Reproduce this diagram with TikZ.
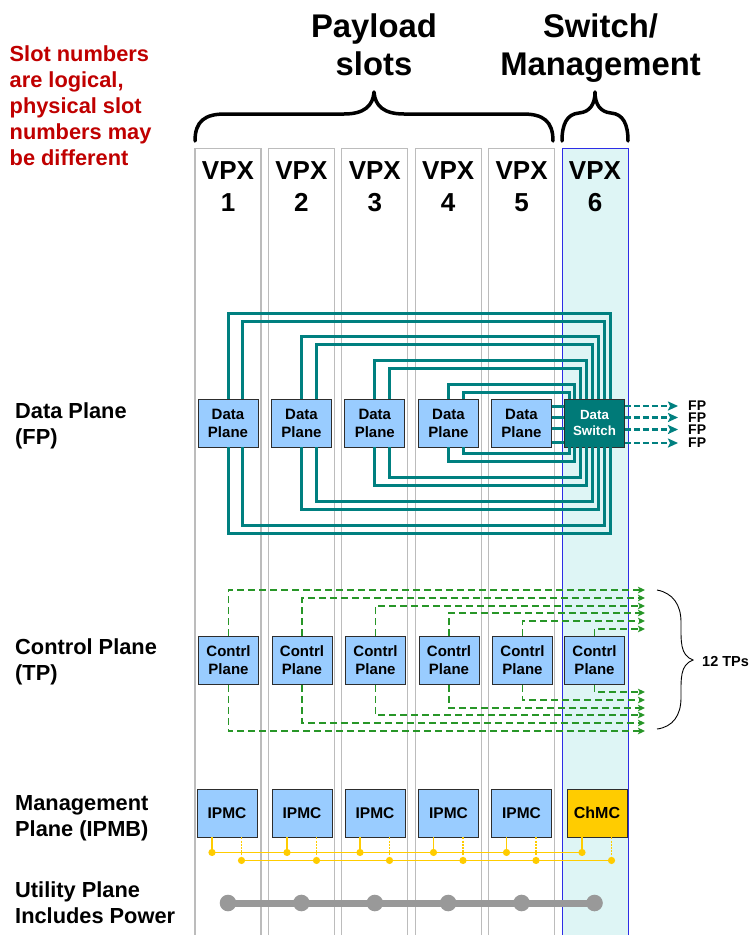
\documentclass[tikz,border=0pt]{standalone}
\usepackage{fontspec}
\setmainfont{Liberation Sans}
\usetikzlibrary{arrows.meta}
\definecolor{slotgray}{RGB}{188,188,188}
\definecolor{sixfill}{RGB}{222,245,245}
\definecolor{sixblue}{RGB}{45,45,230}
\definecolor{boxblue}{RGB}{153,204,255}
\definecolor{boxedge}{RGB}{45,45,45}
\definecolor{tealc}{RGB}{0,128,128}
\definecolor{swfill}{RGB}{0,122,120}
\definecolor{redtxt}{RGB}{192,0,0}
\definecolor{greenc}{RGB}{40,150,40}
\definecolor{yellowc}{RGB}{255,204,0}
\definecolor{utilgray}{RGB}{153,153,153}
\begin{document}
\begin{tikzpicture}[x=1pt,y=-1pt,
  slot/.style={draw=slotgray,line width=1.2pt,minimum width=66pt,minimum height=795pt,anchor=north,inner sep=0pt},
  vpx/.style={anchor=north,inner sep=0pt,align=center,font=\fontsize{26}{32}\selectfont\bfseries},
  bigtxt/.style={anchor=north,inner sep=0pt,align=center,font=\fontsize{32.8}{38}\selectfont\bfseries},
  lbl/.style={anchor=north west,inner sep=0pt,align=left,font=\fontsize{21.8}{26}\selectfont\bfseries},
  bbox/.style={draw=boxedge,line width=0.9pt,fill=boxblue,minimum width=60pt,minimum height=48pt,inner sep=0pt,align=center,font=\fontsize{15}{18}\selectfont\bfseries},
  swbox/.style={bbox,fill=swfill,text=white,font=\fontsize{13.3}{15.5}\selectfont\bfseries},
  tl/.style={draw=tealc,line width=3pt,line join=miter},
  fpa/.style={draw=tealc,line width=2.5pt,dash pattern=on 6pt off 3pt,-{Stealth[length=10pt,width=9pt,inset=2pt]},shorten >=10pt},
  fp/.style={anchor=west,inner sep=0pt,font=\fontsize{14}{14}\selectfont\bfseries},
  ga/.style={draw=greenc,line width=1.8pt,dash pattern=on 7pt off 4pt,-{Stealth[length=7pt,width=6.5pt,inset=1.5pt]}},
  yl/.style={draw=yellowc,line width=1.5pt},
  yd/.style={draw=yellowc,line width=1.5pt,dash pattern=on 2pt off 1.2pt},
  brace/.style={draw=black,line width=3.5pt,line cap=round,line join=round}
]
\useasboundingbox (0,0) rectangle (753,935);
\fill[white] (0,0) rectangle (753,935);

% slots
\foreach \i/\cx in {1/228,2/301.4,3/374.8,4/448.2,5/521.6}{
  \node[slot] (s\i) at (\cx,148) {};
  \node[vpx] (v\i) at (\cx,161) {VPX\\\i};
}
\node[slot,fill=sixfill,draw=sixblue,line width=1pt] (s6) at (595,148) {};
\node[vpx] (v6) at (595,161) {VPX\\6};

% headings
\node[bigtxt] (pay) at (374,13.2) {Payload\\slots};
\node[bigtxt] (swm) at (600.5,13.2) {Switch/\\Management};
\node[anchor=north west,inner sep=0pt,align=left,text=redtxt,font=\fontsize{21.8}{26}\selectfont\bfseries] (note) at (9.5,45) {Slot numbers\\are logical,\\physical slot\\numbers may\\be different};

% braces
\draw[brace] (195,141) .. controls (195,121) and (205,114) .. (225,114) -- (344,114)
  .. controls (364,114) and (373,106) .. (374,92)
  .. controls (375,106) and (384,114) .. (404,114) -- (523,114)
  .. controls (543,114) and (553,121) .. (553,141);
\draw[brace] (562,141) .. controls (562,124) and (567,114) .. (579,113)
  .. controls (590,112) and (595,104) .. (595,92)
  .. controls (595,104) and (600,112) .. (611,113)
  .. controls (623,114) and (628,124) .. (628,141);

% left labels
\node[lbl] (ldp) at (15,402.5) {Data Plane\\(FP)};
\node[lbl] (lcp) at (15,638) {Control Plane\\(TP)};
\node[lbl] (lmp) at (15,795.5) {Management\\Plane (IPMB)};
\node[lbl] (lup) at (15,881) {Utility Plane\\Includes Power};

% data plane
\foreach \i/\cx in {1/228,2/301.5,3/374.8,4/448.5,5/521.5}{
  \node[bbox] (d\i) at (\cx,423) {Data\\Plane};
}
\node[swbox] (sw) at (594.5,423) {Data\\Switch};
\foreach \i/\yo/\yi/\xo/\xi in {1/313/321/610/604.1,2/336.7/344.7/598.3/592.4,3/360.4/368.4/586.6/580.7,4/384.1/392.1/574.8/569}{
  \draw[tl] (d\i.north) |- (\xo,\yo) -- (sw.north -| \xo,0);
  \draw[tl] ([xshift=14.5pt]d\i.north) |- (\xi,\yi) -- (sw.north -| \xi,0);
  \draw[tl] (d\i.south) |- (\xo,{846-\yo}) -- (sw.south -| \xo,0);
  \draw[tl] ([xshift=14.5pt]d\i.south) |- (\xi,{846-\yi}) -- (sw.south -| \xi,0);
}
\foreach \y in {406,417,428,442}{
  \draw[tl] (d5.east |- 0,\y) -- (sw.west |- 0,\y);
}
\foreach \k/\y in {1/406,2/417.5,3/429.5,4/443}{
  \node[fp] (fp\k) at (688,\y) {FP};
  \draw[fpa] (sw.east |- fp\k.west) -- (fp\k.west);
}

% control plane
\foreach \i/\cx/\yt/\yb in {1/228.5/590/731,2/302/598/723,3/375.5/606/715,4/449/613/708,5/522.5/621/700,6/594.5/629/692}{
  \node[bbox] (c\i) at (\cx,660.5) {Contrl\\Plane};
  \coordinate (tt\i) at (645,\yt);
  \coordinate (tb\i) at (645,\yb);
  \draw[ga] (c\i.north) |- (tt\i);
  \draw[ga] (c\i.south) |- (tb\i);
}
\draw[line width=0.9pt] (657,590) .. controls (673,593) and (681,605) .. (681,622)
  .. controls (681,642) and (680,655) .. (693,660)
  .. controls (680,665) and (681,678) .. (681,698)
  .. controls (681,715) and (673,727) .. (657,729);
\node[anchor=west,inner sep=0pt,font=\fontsize{14.5}{15}\selectfont\bfseries] (tps) at (702,661) {12 TPs};

% management plane
\foreach \i/\cx in {1/227,2/302,3/375,4/448.5,5/521.5}{
  \node[bbox,font=\fontsize{15.5}{18}\selectfont\bfseries] (m\i) at (\cx,813) {IPMC};
}
\node[bbox,fill=yellowc,font=\fontsize{16}{18}\selectfont\bfseries] (m6) at (597,813) {ChMC};
\foreach \i in {1,...,6}{
  \path ([xshift=-15pt]m\i.south) ++(0,15) coordinate (ya\i);
  \path ([xshift=14.5pt]m\i.south) ++(0,23) coordinate (yb\i);
  \draw[yl] ([xshift=-15pt]m\i.south) -- (ya\i);
  \draw[yd] ([xshift=14.5pt]m\i.south) -- (yb\i);
}
\draw[yl] (ya1) -- (ya6);
\draw[yl] (yb1) -- (yb6);
\foreach \i in {1,...,6}{
  \fill[yellowc] (ya\i) circle[radius=3.6pt];
  \fill[yellowc] (yb\i) circle[radius=3.6pt];
}

% utility plane
\foreach \i/\cx in {1/228,2/301.4,3/374.8,4/448.2,5/521.6,6/594.5}{
  \coordinate (u\i) at (\cx,903);
}
\draw[utilgray,line width=7pt] (u1) -- (u6);
\foreach \i in {1,...,6}{
  \fill[utilgray] (u\i) circle[radius=8.3pt];
}
\end{tikzpicture}
\end{document}
